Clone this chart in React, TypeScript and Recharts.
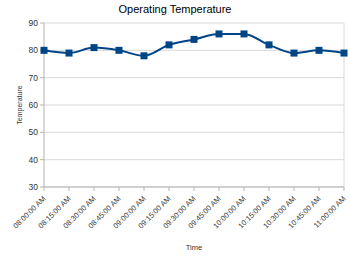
import React from "react";
import {
  LineChart,
  Line,
  XAxis,
  YAxis,
  CartesianGrid,
  ReferenceLine,
  Label,
} from "recharts";

const times = [
  "08:00:00 AM",
  "08:15:00 AM",
  "08:30:00 AM",
  "08:45:00 AM",
  "09:00:00 AM",
  "09:15:00 AM",
  "09:30:00 AM",
  "09:45:00 AM",
  "10:00:00 AM",
  "10:15:00 AM",
  "10:30:00 AM",
  "10:45:00 AM",
  "11:00:00 AM",
];
const temperatures = [80, 79, 81, 80, 78, 82, 84, 86, 86, 82, 79, 80, 79];
const yTicks = [30, 40, 50, 60, 70, 80, 90];

const data = times.map((t, i) => ({ time: t, temp: temperatures[i] }));

const font = "'Liberation Sans', Arial, sans-serif";

const AngledTick = (props: any) => {
  const { x, y, payload } = props;
  return (
    <g transform={`translate(${x},${y + 4})`}>
      <text
        x={0}
        y={0}
        dy={3}
        textAnchor="end"
        fontSize={7.5}
        fill="#3a3a3a"
        fontFamily={font}
        transform="rotate(-45)"
      >
        {payload.value}
      </text>
    </g>
  );
};

const Square = (props: any) => {
  const { cx, cy } = props;
  if (cx == null || cy == null) return null;
  return <rect x={cx - 3.5} y={cy - 3.5} width={7} height={7} fill="#004586" />;
};

export default function App() {
  return (
    <div
      style={{
        position: "fixed",
        left: 0,
        top: 0,
        width: 350,
        height: 262,
        background: "#fff",
        fontFamily: font,
      }}
    >
      <div
        style={{
          position: "absolute",
          top: 3,
          width: 350,
          textAlign: "center",
          fontSize: 11,
          color: "#000",
        }}
      >
        Operating Temperature
      </div>
      <LineChart
        width={350}
        height={262}
        data={data}
        margin={{ top: 23, right: 6, left: 0, bottom: 22 }}
      >
        <CartesianGrid vertical={false} stroke="#d9d9d9" />
        <XAxis
          dataKey="time"
          interval={0}
          height={53}
          tick={<AngledTick />}
          stroke="#b3b3b3"
          tickSize={4}
        >
          <Label
            value="Time"
            position="insideBottom"
            offset={-10}
            fontSize={7.5}
            fill="#333"
          />
        </XAxis>
        <YAxis
          domain={[30, 90]}
          ticks={yTicks}
          width={44}
          axisLine={{ stroke: "#b3b3b3" }}
          tickLine={{ stroke: "#b3b3b3" }}
          tickSize={4}
          tick={{ fontSize: 8.5, fill: "#333", fontFamily: font }}
        >
          <Label
            value="Temperature"
            angle={-90}
            position="insideLeft"
            offset={20}
            fontSize={7}
            fill="#333"
            style={{ textAnchor: "middle" }}
          />
        </YAxis>
        <ReferenceLine x={times[times.length - 1]} stroke="#d9d9d9" />
        <Line
          type="monotone"
          dataKey="temp"
          stroke="#004586"
          strokeWidth={2}
          dot={<Square />}
          activeDot={false}
          isAnimationActive={false}
        />
      </LineChart>
    </div>
  );
}
